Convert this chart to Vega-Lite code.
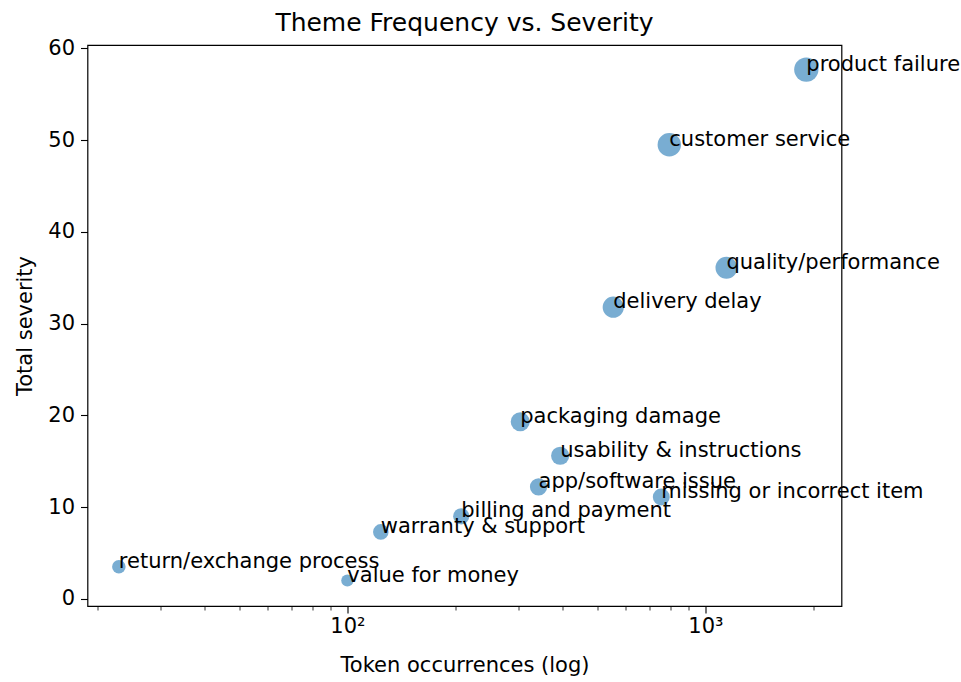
{
  "$schema": "https://vega.github.io/schema/vega-lite/v6.json",
  "autosize": {"type": "none"},
  "width": 754,
  "height": 561,
  "padding": {"left": 87.5, "top": 45, "right": 120, "bottom": 76},
  "background": "white",
  "config": {
    "font": "DejaVu Sans",
    "view": {"stroke": "#000000", "strokeWidth": 1.2},
    "axis": {"grid": false, "domain": false, "tickColor": "#000000", "labelColor": "#000000", "titleColor": "#000000", "tickWidth": 1.1}
  },
  "title": {"text": "Theme Frequency vs. Severity", "fontSize": 25, "fontWeight": "normal", "color": "#000000", "anchor": "middle", "offset": 1},
  "data": {
    "values": [
      {"theme": "product failure", "tokens": 1914, "severity": 57.7},
      {"theme": "customer service", "tokens": 793, "severity": 49.5},
      {"theme": "quality/performance", "tokens": 1145, "severity": 36.1},
      {"theme": "delivery delay", "tokens": 553, "severity": 31.8},
      {"theme": "packaging damage", "tokens": 304, "severity": 19.3},
      {"theme": "usability & instructions", "tokens": 393, "severity": 15.6},
      {"theme": "app/software issue", "tokens": 342, "severity": 12.2},
      {"theme": "missing or incorrect item", "tokens": 753, "severity": 11.1},
      {"theme": "billing and payment", "tokens": 208, "severity": 9.0},
      {"theme": "warranty & support", "tokens": 124, "severity": 7.3},
      {"theme": "return/exchange process", "tokens": 23, "severity": 3.5},
      {"theme": "value for money", "tokens": 100, "severity": 2.0}
    ]
  },
  "resolve": {"axis": {"x": "independent"}},
  "layer": [
    {
      "mark": {"type": "circle", "color": "#1f77b4", "opacity": 0.6, "clip": false},
      "encoding": {
        "x": {
          "field": "tokens", "type": "quantitative",
          "scale": {"type": "log", "domain": [18.8, 2400], "nice": false},
          "axis": {
            "orient": "bottom",
            "title": "Token occurrences (log)",
            "titleFontSize": 21,
            "titleFontWeight": "normal",
            "titlePadding": 18,
            "values": [100, 1000],
            "labelExpr": "datum.value == 100 ? '10²' : '10³'",
            "labelFontSize": 21,
            "labelPadding": 2,
            "tickSize": 7
          }
        },
        "y": {
          "field": "severity", "type": "quantitative",
          "scale": {"domain": [-0.78, 60.38], "nice": false, "zero": false},
          "axis": {
            "title": "Total severity",
            "titleFontSize": 21,
            "titleFontWeight": "normal",
            "titlePadding": 12,
            "values": [0, 10, 20, 30, 40, 50, 60],
            "labelFontSize": 21,
            "labelPadding": 6,
            "tickSize": 7
          }
        },
        "size": {
          "field": "severity", "type": "quantitative",
          "scale": {"type": "sqrt", "domain": [2, 57.7], "range": [150, 590]},
          "legend": null
        }
      }
    },
    {
      "mark": {"type": "text", "align": "left", "baseline": "alphabetic", "dy": 1, "fontSize": 21, "color": "#000000"},
      "encoding": {
        "x": {
          "field": "tokens", "type": "quantitative",
          "axis": {
            "orient": "bottom",
            "title": null,
            "values": [20, 30, 40, 50, 60, 70, 80, 90, 200, 300, 400, 500, 600, 700, 800, 900, 2000],
            "labels": false,
            "tickSize": 4,
            "tickWidth": 0.8
          }
        },
        "y": {"field": "severity", "type": "quantitative"},
        "text": {"field": "theme"}
      }
    }
  ]
}
